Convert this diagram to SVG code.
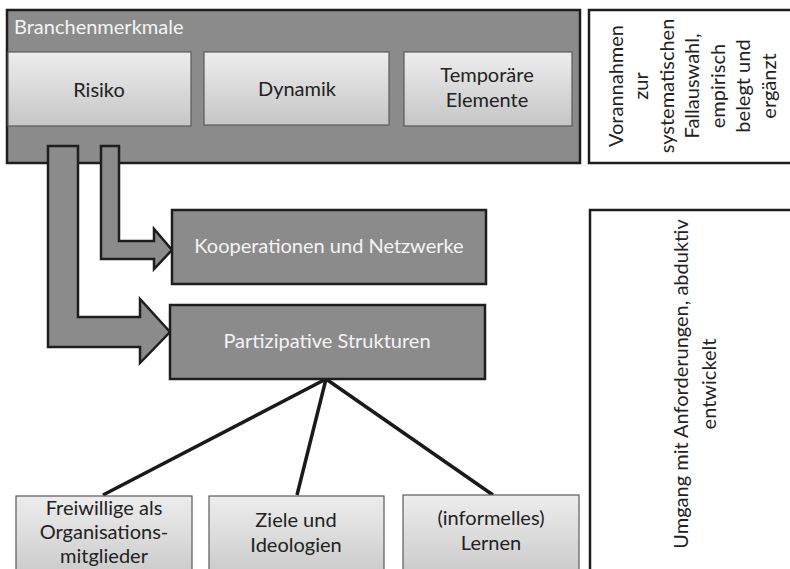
<svg xmlns="http://www.w3.org/2000/svg" width="790" height="569" viewBox="0 0 790 569">
  <defs>
    <linearGradient id="lightFill" x1="0" y1="0" x2="0" y2="1">
      <stop offset="0" stop-color="#ededed"/>
      <stop offset="1" stop-color="#c6c6c6"/>
    </linearGradient>
    <style>
      .dark { fill: #8b8b8b; stroke: #1e1e1e; stroke-width: 2.5; }
      .light { fill: url(#lightFill); stroke: #5a5a5a; stroke-width: 1.2; }
      .note { fill: #ffffff; stroke: #1e1e1e; stroke-width: 2.5; }
      .arrow { fill: #8b8b8b; stroke: #1e1e1e; stroke-width: 2.5; stroke-linejoin: miter; }
      .link { stroke: #1a1a1a; stroke-width: 3.5; fill: none; }
      text { font-family: Lato, "Open Sans", "Liberation Sans", sans-serif; font-size: 20px; }
      .w { fill: #f4f4f4; }
      .k { fill: #222222; }
      .c { text-anchor: middle; }
    </style>
  </defs>

  <rect width="790" height="569" fill="#ffffff"/>

  <!-- Branchenmerkmale container with its three features -->
  <g id="branchenmerkmale">
    <rect class="dark" x="7" y="10" width="573" height="153"/>
    <text class="w" x="14" y="34">Branchenmerkmale</text>
  </g>
  <g id="risiko">
    <rect class="light" x="8" y="52" width="183" height="74"/>
    <text class="k c" x="99" y="97">Risiko</text>
  </g>
  <g id="dynamik">
    <rect class="light" x="204" y="52" width="185" height="73"/>
    <text class="k c" x="297" y="96">Dynamik</text>
  </g>
  <g id="temporaere-elemente">
    <rect class="light" x="404" y="52" width="168" height="74"/>
    <text class="k c" x="487" y="82">Temporäre</text>
    <text class="k c" x="487" y="107">Elemente</text>
  </g>

  <!-- side notes (cut off at the right edge) -->
  <g id="vorannahmen">
    <rect class="note" x="589" y="10" width="230" height="153"/>
    <g class="k c" transform="translate(0,86)">
      <text transform="translate(623,0) rotate(-90)">Vorannahmen</text>
      <text transform="translate(648,0) rotate(-90)">zur</text>
      <text transform="translate(674,0) rotate(-90)">systematischen</text>
      <text transform="translate(699,0) rotate(-90)">Fallauswahl,</text>
      <text transform="translate(725,0) rotate(-90)">empirisch</text>
      <text transform="translate(750,0) rotate(-90)">belegt und</text>
      <text transform="translate(776,0) rotate(-90)">ergänzt</text>
    </g>
  </g>
  <g id="umgang">
    <rect class="note" x="590" y="210" width="230" height="370"/>
    <g class="k c" transform="translate(0,384)">
      <text transform="translate(688,0) rotate(-90)">Umgang mit Anforderungen, abduktiv</text>
      <text transform="translate(716,0) rotate(-90)">entwickelt</text>
    </g>
  </g>

  <!-- connectors: block arrows from Risiko and lines to the sub-aspects -->
  <g id="connectors">
    <polygon class="arrow" points="48,146 78,146 78,317 140,317 140,299 170,332 140,363 140,347 48,347"/>
    <polygon class="arrow" points="101,146 119,146 119,241 154,241 154,229 172,250 154,269 154,259 101,259"/>
    <line class="link" x1="326" y1="379" x2="103" y2="495"/>
    <line class="link" x1="326" y1="379" x2="297" y2="495"/>
    <line class="link" x1="326" y1="379" x2="493" y2="495"/>
  </g>

  <g id="kooperationen">
    <rect class="dark" x="172" y="210" width="314" height="74"/>
    <text class="w c" x="329" y="253">Kooperationen und Netzwerke</text>
  </g>
  <g id="partizipative-strukturen">
    <rect class="dark" x="170" y="305" width="315" height="74"/>
    <text class="w c" x="327" y="348">Partizipative Strukturen</text>
  </g>

  <g id="freiwillige">
    <rect class="light" x="16" y="496" width="176" height="90"/>
    <text class="k c" x="104" y="515">Freiwillige als</text>
    <text class="k c" x="104" y="539">Organisations-</text>
    <text class="k c" x="104" y="563">mitglieder</text>
  </g>
  <g id="ziele">
    <rect class="light" x="209" y="496" width="175" height="90"/>
    <text class="k c" x="296" y="527">Ziele und</text>
    <text class="k c" x="296" y="552">Ideologien</text>
  </g>
  <g id="lernen">
    <rect class="light" x="403" y="495" width="176" height="90"/>
    <text class="k c" x="491" y="525">(informelles)</text>
    <text class="k c" x="491" y="550">Lernen</text>
  </g>
</svg>
